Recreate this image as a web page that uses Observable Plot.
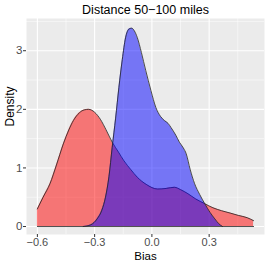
<!DOCTYPE html>
<html><head><meta charset="utf-8">
<script src="https://cdn.jsdelivr.net/npm/d3@7"></script>
<script src="https://cdn.jsdelivr.net/npm/@observablehq/plot@0.6"></script>
<style>body{margin:0;background:#fff;}</style>
</head><body><div id="chart"></div>
<script>
const title = "Distance 50\u2212100 miles";
const xLabel = "Bias";
const yLabel = "Density";
const xTicks = [-0.6, -0.3, 0.0, 0.3];
const yTicks = [0, 1, 2, 3];
const xMinor = [-0.45, -0.15, 0.15, 0.45];
const yMinor = [0.5, 1.5, 2.5, 3.5];

// red group density
const redX = [-0.60, -0.57, -0.534, -0.50, -0.464, -0.435, -0.411, -0.38, -0.355, -0.332, -0.30, -0.27, -0.24, -0.208, -0.175, -0.146, -0.11, -0.076, -0.03, 0.03, 0.075, 0.118, 0.15, 0.189, 0.23, 0.277, 0.32, 0.365, 0.41, 0.453, 0.50, 0.533];
const redY = [0.30, 0.50, 0.73, 1.05, 1.41, 1.65, 1.81, 1.94, 1.99, 2.00, 1.95, 1.83, 1.65, 1.44, 1.27, 1.12, 0.97, 0.84, 0.72, 0.64, 0.65, 0.67, 0.63, 0.56, 0.47, 0.39, 0.32, 0.27, 0.23, 0.19, 0.15, 0.10];
// blue group density
const blueX = [-0.36, -0.32, -0.287, -0.262, -0.243, -0.225, -0.208, -0.19, -0.173, -0.155, -0.138, -0.12, -0.106, -0.092, -0.076, -0.055, -0.032, -0.005, 0.021, 0.045, 0.065, 0.085, 0.10, 0.125, 0.144, 0.165, 0.18, 0.20, 0.224, 0.25, 0.277, 0.305, 0.33, 0.35, 0.37];
const blueY = [0.00, 0.03, 0.13, 0.28, 0.50, 0.85, 1.35, 1.85, 2.37, 2.85, 3.22, 3.37, 3.385, 3.34, 3.22, 2.97, 2.66, 2.32, 2.03, 1.88, 1.81, 1.76, 1.69, 1.56, 1.44, 1.34, 1.24, 0.98, 0.73, 0.55, 0.39, 0.24, 0.13, 0.05, 0.00];

const red = redX.map((x, i) => ({x, y: redY[i]}));
const blue = blueX.map((x, i) => ({x, y: blueY[i]}));
const fmt = d3.format(".1f");

const chart = Plot.plot({
  width: 266, height: 266,
  marginLeft: 26, marginRight: 2, marginTop: 18, marginBottom: 32,
  style: {fontFamily: "Liberation Sans, Arial, sans-serif", background: "white"},
  x: {domain: [-0.657, 0.59]},
  y: {domain: [-0.136, 3.55]},
  marks: [
    Plot.frame({fill: "#EBEBEB", stroke: "none"}),
    Plot.gridX(xMinor, {stroke: "white", strokeOpacity: 1, strokeWidth: 0.5}),
    Plot.gridY(yMinor, {stroke: "white", strokeOpacity: 1, strokeWidth: 0.5}),
    Plot.gridX(xTicks, {stroke: "white", strokeOpacity: 1, strokeWidth: 1.1}),
    Plot.gridY(yTicks, {stroke: "white", strokeOpacity: 1, strokeWidth: 1.1}),
    Plot.areaY(red, {x: "x", y: "y", fill: "red", fillOpacity: 0.5, curve: "monotone-x"}),
    Plot.lineY(red, {x: "x", y: "y", stroke: "#222", strokeWidth: 0.8, curve: "monotone-x"}),
    Plot.lineY([redX[0], redX[redX.length - 1]], {x: d => d, y: 0, stroke: "#222", strokeWidth: 0.8}),
    Plot.areaY(blue, {x: "x", y: "y", fill: "blue", fillOpacity: 0.5, curve: "monotone-x"}),
    Plot.lineY(blue, {x: "x", y: "y", stroke: "#222", strokeWidth: 0.8, curve: "monotone-x"}),
    Plot.axisX({ticks: xTicks, tickFormat: fmt, tickSize: 3, tickPadding: 1, fontSize: 11, color: "#4D4D4D", stroke: "#333", label: null}),
    Plot.axisY({ticks: yTicks, tickFormat: d3.format("d"), tickSize: 3, tickPadding: 1, fontSize: 11.5, color: "#4D4D4D", stroke: "#333", label: null}),
    Plot.text([xLabel], {frameAnchor: "bottom", lineAnchor: "middle", dy: 22, fontSize: 11.5, fill: "black"}),
    Plot.text([yLabel], {frameAnchor: "left", lineAnchor: "middle", dx: -16, rotate: -90, fontSize: 12, fill: "black"}),
    Plot.text([title], {frameAnchor: "top", lineAnchor: "middle", dy: -9, fontSize: 12.5, fill: "black"})
  ]
});
document.getElementById("chart").append(chart);
</script>
</body></html>
